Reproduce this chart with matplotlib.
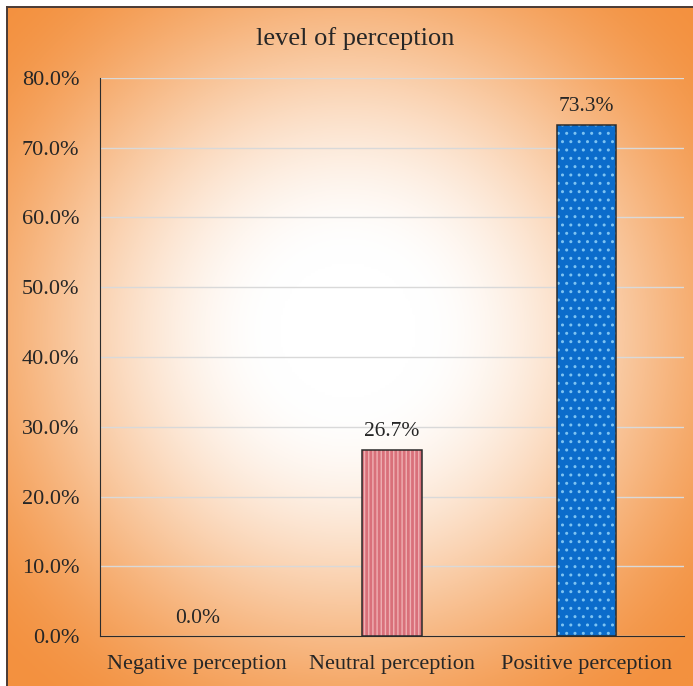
import numpy as np
import matplotlib
matplotlib.use('Agg')
import matplotlib.pyplot as plt
from matplotlib.colors import to_rgb
from matplotlib.ticker import PercentFormatter

plt.rcParams['font.family'] = ['Liberation Serif', 'DejaVu Serif']

categories = ['Negative perception', 'Neutral perception', 'Positive perception']
values = [0.0, 26.7, 73.3]
value_labels = ['0.0%', '26.7%', '73.3%']
y_ticks = [0, 10, 20, 30, 40, 50, 60, 70, 80]

fig = plt.figure(figsize=(6.93, 6.86), dpi=100)

# radial gradient background (white centre -> orange edges)
bg = fig.add_axes([7 / 693, -0.01, 1.0, 679 / 686 + 0.01], zorder=0)
h, w = 300, 300
yy, xx = np.mgrid[0:h, 0:w]
cx, cy = w * 0.49, h * 0.47
r = np.sqrt(((xx - cx) / (w * 0.5)) ** 2 + ((yy - cy) / (h * 0.5)) ** 2)
t = np.clip((r - 0.2) / 1.2, 0, 1)
t = t * t * (3 - 2 * t)
white = np.array(to_rgb('#ffffff'))
orange = np.array(to_rgb('#f3913f'))
img = white[None, None, :] * (1 - t[..., None]) + orange[None, None, :] * t[..., None]
bg.imshow(img, aspect='auto', extent=[0, 1, 0, 1], origin='upper')
bg.set_xticks([])
bg.set_yticks([])
for s in bg.spines.values():
    s.set_color('#4a3a34')
    s.set_linewidth(1.4)

ax = fig.add_axes([100 / 693, 50 / 686, 584 / 693, 558 / 686], zorder=1)
ax.patch.set_alpha(0)

x = np.arange(len(categories))
bar_w = 0.305
fills = ['#ffffff', '#d9707a', '#0b6ccb']
hatch_cols = ['#ffffff', '#efb0b3', '#7cc3f2']
hatches = ['', '||||', '..']
for i in range(len(categories)):
    if values[i] <= 0:
        continue
    ax.bar(x[i], values[i], bar_w, color=fills[i], edgecolor=hatch_cols[i],
           hatch=hatches[i], linewidth=0, zorder=3)
    ax.bar(x[i], values[i], bar_w, fill=False, edgecolor='#2b2b2b',
           linewidth=1.1, zorder=4)

for i, v in enumerate(values):
    ax.text(x[i], v + 1.2, value_labels[i], ha='center', va='bottom',
            fontsize=15.5, color='#262626')

ax.set_xlim(-0.5, 2.5)
ax.set_ylim(0, 80)
ax.set_yticks(y_ticks)
ax.yaxis.set_major_formatter(PercentFormatter(decimals=1))
ax.set_xticks(x)
ax.set_xticklabels(categories)
ax.tick_params(axis='both', length=0, labelsize=16, colors='#262626')
ax.tick_params(axis='y', pad=15)
ax.tick_params(axis='x', pad=14)
ax.grid(axis='y', color='#d9d9d9', linewidth=1, zorder=1)
ax.set_axisbelow(True)
for s in ['top', 'right']:
    ax.spines[s].set_visible(False)
ax.spines['left'].set_color('#2b2b2b')
ax.spines['bottom'].set_color('#2b2b2b')

fig.text(355 / 693, 1 - 39 / 686, 'level of perception',
         ha='center', va='center', fontsize=19, color='#262626')

fig.savefig('out.png', dpi=100)
